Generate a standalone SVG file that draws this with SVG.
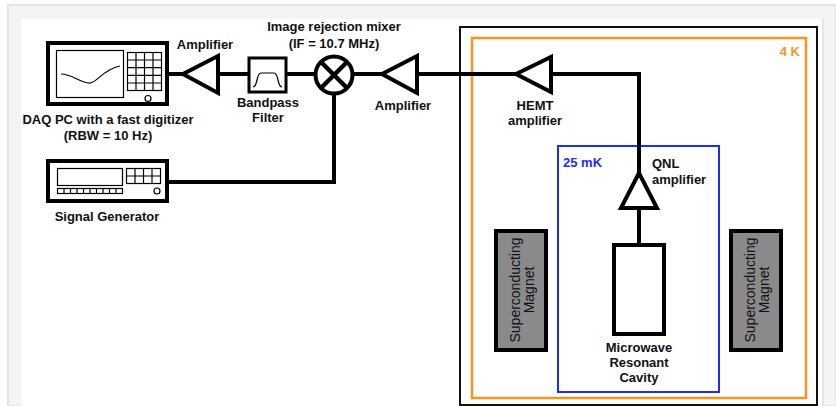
<svg xmlns="http://www.w3.org/2000/svg" width="836" height="406" viewBox="0 0 836 406">
<style>
text{font-family:"Liberation Sans",Arial,sans-serif;font-size:13px;font-weight:bold;fill:#111}
.c{text-anchor:middle}
.w{fill:none;stroke:#000;stroke-width:4}
.th{fill:none;stroke:#000;stroke-width:1.2}
.dev{fill:#fff;stroke:#000;stroke-width:4}
.amp{fill:#fff;stroke:#000;stroke-width:4;stroke-linejoin:miter}
.mag{fill:#8a8a8a;stroke:#000;stroke-width:4}
.mt{font-weight:normal;font-size:14px}
</style>
<rect x="0" y="0" width="836" height="406" fill="#fff"/>
<rect x="8" y="5" width="828" height="401" fill="#f4f4f4" stroke="#e4e4e4" stroke-width="2"/>
<rect x="21" y="19" width="801" height="387" fill="#fff"/>
<line x1="823" y1="19" x2="823" y2="406" stroke="#e6e6e6" stroke-width="2"/>

<g id="cryostat">
<rect x="460" y="27" width="357" height="378" fill="none" stroke="#111" stroke-width="2"/>
</g>
<g id="stage-4K">
<rect x="472" y="38" width="334" height="360" fill="none" stroke="#f7931e" stroke-width="2.5"/>
<text x="800" y="56" style="fill:#f7931e;text-anchor:end">4 K</text>
</g>
<g id="stage-25mK">
<rect x="558" y="146" width="161" height="246" fill="none" stroke="#1f2cff" stroke-width="2"/>
<text x="563" y="167" style="fill:#1f2cff">25 mK</text>
</g>

<g id="connectors">
<polyline class="w" points="168,74 183,74"/>
<polyline class="w" points="218,74 248,74"/>
<polyline class="w" points="287,74 314,74"/>
<polyline class="w" points="354,74 382,74"/>
<polyline class="w" points="417,74 516,74"/>
<polyline class="w" points="551,74 639,74 639,173"/>
<polyline class="w" points="639,209 639,244"/>
<polyline class="w" points="167,182 334,182 334,94"/>
</g>

<g id="daq">
<rect class="dev" x="48" y="43" width="119" height="61"/>
<rect class="th" x="56.5" y="50.5" width="67" height="47"/>
<path class="th" d="M61,74 C72,74 82,84 90,83 C98,82 102,70 120,66"/>
<g class="th">
<rect x="127.5" y="52.5" width="34" height="38"/>
<line x1="136" y1="52.5" x2="136" y2="90.5"/>
<line x1="144.5" y1="52.5" x2="144.5" y2="90.5"/>
<line x1="153" y1="52.5" x2="153" y2="90.5"/>
<line x1="127.5" y1="60" x2="161.5" y2="60"/>
<line x1="127.5" y1="67.7" x2="161.5" y2="67.7"/>
<line x1="127.5" y1="75.3" x2="161.5" y2="75.3"/>
<line x1="127.5" y1="83" x2="161.5" y2="83"/>
<circle cx="148" cy="98.5" r="3"/>
</g>
<text class="c" x="108" y="124">DAQ PC with a fast digitizer</text>
<text class="c" x="108" y="140">(RBW = 10 Hz)</text>
</g>

<g id="signal-generator">
<rect class="dev" x="48" y="161" width="119" height="40"/>
<g class="th">
<rect x="57.5" y="168.5" width="65" height="17"/>
<rect x="126.5" y="168.5" width="34" height="15"/>
<line x1="135" y1="168.5" x2="135" y2="183.5"/>
<line x1="143.5" y1="168.5" x2="143.5" y2="183.5"/>
<line x1="152" y1="168.5" x2="152" y2="183.5"/>
<line x1="126.5" y1="176" x2="160.5" y2="176"/>
<rect x="57.5" y="188.5" width="65" height="5"/>
<path d="M64,188.5v5M70.5,188.5v5M77,188.5v5M83.5,188.5v5M90,188.5v5M96.5,188.5v5M103,188.5v5M109.5,188.5v5M116,188.5v5"/>
<circle cx="157" cy="191" r="3"/>
</g>
<text class="c" x="107" y="221">Signal Generator</text>
</g>

<g id="amplifier-1">
<polygon class="amp" points="183,74 218,56 218,93"/>
<text class="c" x="205" y="49">Amplifier</text>
</g>

<g id="bandpass-filter">
<rect x="249" y="58" width="37" height="34" fill="#fff" stroke="#000" stroke-width="3"/>
<path class="th" d="M253,87 C258,87 256,73 261,73 L274,73 C279,73 277,87 282,87"/>
<text class="c" x="268" y="107">Bandpass</text>
<text class="c" x="268" y="122">Filter</text>
</g>

<g id="mixer">
<circle cx="334" cy="75" r="18.5" fill="#fff" stroke="#000" stroke-width="4"/>
<path d="M321,62 L347,88 M347,62 L321,88" stroke="#000" stroke-width="4.5"/>
<text class="c" x="334" y="31">Image rejection mixer</text>
<text class="c" x="334" y="48">(IF = 10.7 MHz)</text>
</g>

<g id="amplifier-2">
<polygon class="amp" points="382,74 417,56 417,93"/>
<text class="c" x="403" y="110">Amplifier</text>
</g>

<g id="hemt">
<polygon class="amp" points="516,74 551,57 551,92"/>
<text class="c" x="535" y="110">HEMT</text>
<text class="c" x="535" y="125">amplifier</text>
</g>

<g id="qnl">
<polygon class="amp" points="639,173 621,208 657,208"/>
<text x="652" y="168">QNL</text>
<text x="652" y="184">amplifier</text>
</g>

<g id="cavity">
<rect x="614" y="245" width="50" height="89" fill="#fff" stroke="#000" stroke-width="4"/>
<text class="c" x="639" y="352">Microwave</text>
<text class="c" x="639" y="367">Resonant</text>
<text class="c" x="639" y="382">Cavity</text>
</g>

<g id="magnet-left">
<rect class="mag" x="496" y="231" width="50" height="119"/>
<text class="c mt" transform="translate(520,290) rotate(-90)" y="0">Superconducting</text>
<text class="c mt" transform="translate(534,290) rotate(-90)" y="0">Magnet</text>
</g>
<g id="magnet-right">
<rect class="mag" x="731" y="231" width="50" height="119"/>
<text class="c mt" transform="translate(755,290) rotate(-90)" y="0">Superconducting</text>
<text class="c mt" transform="translate(769,290) rotate(-90)" y="0">Magnet</text>
</g>
</svg>
